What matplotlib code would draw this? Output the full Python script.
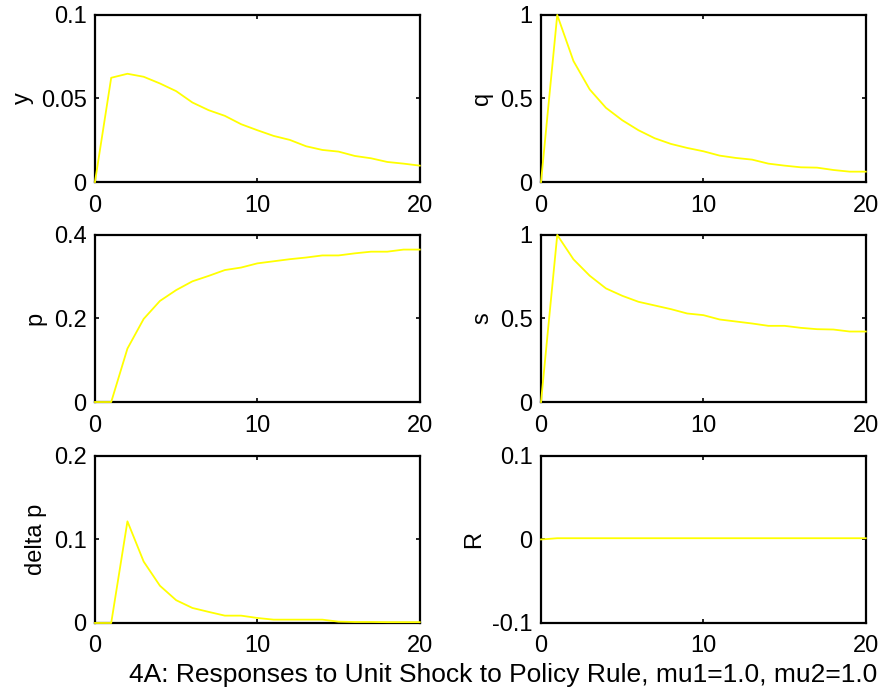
import matplotlib
matplotlib.use("Agg")
import matplotlib.pyplot as plt
import numpy as np

plt.rcParams['font.family'] = ['Liberation Sans', 'DejaVu Sans']

t = list(range(21))

y_vals = [0, 0.0624, 0.0648, 0.063, 0.059, 0.0544, 0.0476, 0.043, 0.0396, 0.0346, 0.031,
          0.0276, 0.0252, 0.0214, 0.0192, 0.0182, 0.0156, 0.0142, 0.012, 0.011, 0.0098]
q_vals = [0, 1.0, 0.724, 0.554, 0.444, 0.37, 0.31, 0.262, 0.228, 0.204, 0.184,
          0.158, 0.144, 0.134, 0.11, 0.098, 0.088, 0.086, 0.072, 0.062, 0.062]
p_vals = [0, 0, 0.128, 0.199, 0.242, 0.268, 0.289, 0.302, 0.316, 0.322, 0.332,
          0.337, 0.342, 0.346, 0.351, 0.351, 0.356, 0.36, 0.36, 0.365, 0.365]
s_vals = [0, 1.0, 0.854, 0.756, 0.68, 0.636, 0.6, 0.578, 0.556, 0.53, 0.52,
          0.494, 0.482, 0.47, 0.456, 0.456, 0.444, 0.436, 0.434, 0.422, 0.422]
dp_vals = [0, 0, 0.1217, 0.0735, 0.0446, 0.0273, 0.018, 0.0133, 0.0088, 0.0088, 0.006,
           0.004, 0.004, 0.004, 0.004, 0.0016, 0.0012, 0.0012, 0.001, 0.001, 0.001]
R_vals = [0] + [0.0015] * 20

labels = ["y", "q", "p", "s", "delta p", "R"]
series = [y_vals, q_vals, p_vals, s_vals, dp_vals, R_vals]
ylims = [(0, 0.1), (0, 1), (0, 0.4), (0, 1), (0, 0.2), (-0.1, 0.1)]
yticks = [[0, 0.05, 0.1], [0, 0.5, 1], [0, 0.2, 0.4], [0, 0.5, 1], [0, 0.1, 0.2], [-0.1, 0, 0.1]]
yticklabels = [["0", "0.05", "0.1"], ["0", "0.5", "1"], ["0", "0.2", "0.4"],
               ["0", "0.5", "1"], ["0", "0.1", "0.2"], ["-0.1", "0", "0.1"]]
xticks = [0, 10, 20]
title = "4A: Responses to Unit Shock to Policy Rule, mu1=1.0, mu2=1.0"

fig = plt.figure(figsize=(8.85, 6.96), dpi=100)
lefts = [0.1073, 0.6113]
bottoms = [0.7385, 0.4224, 0.1049]
w, h = 0.367, 0.24

for i in range(6):
    r, c = divmod(i, 2)
    ax = fig.add_axes([lefts[c], bottoms[r], w, h])
    ax.plot(t, series[i], color=(1, 1, 0), lw=1.3, clip_on=False, zorder=3)
    ax.set_xlim(0, 20)
    ax.set_ylim(*ylims[i])
    ax.set_xticks(xticks)
    ax.set_xticklabels([str(v) for v in xticks])
    ax.set_yticks(yticks[i])
    ax.set_yticklabels(yticklabels[i])
    ax.tick_params(direction='in', length=3, width=1.2, top=True, right=True,
                   labelsize=17, colors='black')
    ax.tick_params(axis='x', pad=9)
    ax.tick_params(axis='y', pad=6)
    for sp in ax.spines.values():
        sp.set_linewidth(1.6)
    ax.set_ylabel(labels[i], fontsize=17, labelpad=5)

fig.text(129 / 885, 1 - 682 / 696, title, fontsize=19, ha='left', va='baseline')
fig.savefig("out.png", dpi=100, facecolor='white')
